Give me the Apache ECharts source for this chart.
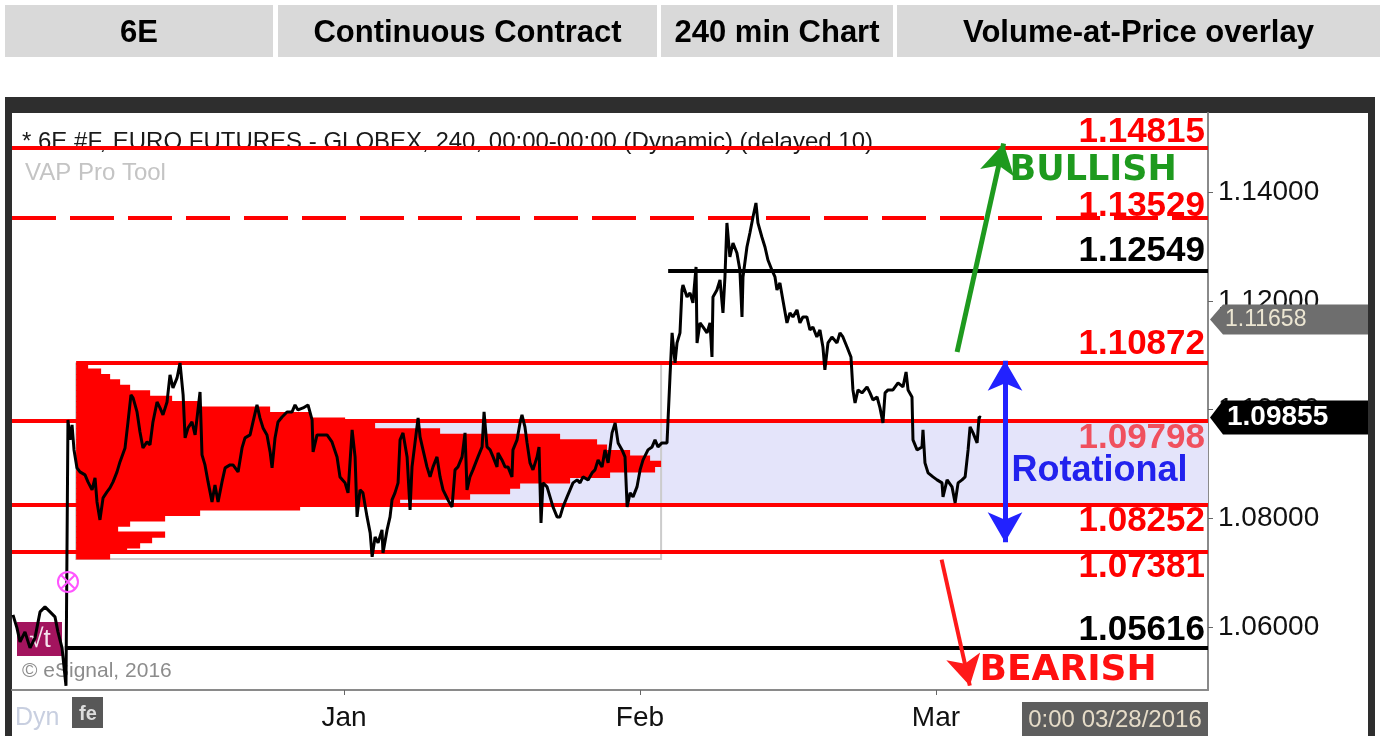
<!DOCTYPE html>
<html>
<head>
<meta charset="utf-8">
<title>6E 240 min Chart - Volume-at-Price overlay</title>
<script src="https://cdn.jsdelivr.net/npm/echarts@6/dist/echarts.min.js"></script>
<style>
  html, body { margin: 0; padding: 0; background: #fff; }
  #chart { width: 1380px; height: 736px; }
</style>
</head>
<body>
<div id="chart"></div>
<script>
// x axis: trading days counted from Tue 1 Dec 2015, y axis: price
const headerCells = ['6E', 'Continuous Contract', '240 min Chart', 'Volume-at-Price overlay'];

const monthTicks = [23, 44, 65];
const monthLabels = ['Jan', 'Feb', 'Mar'];
const priceTicks = [1.06, 1.08, 1.10, 1.12, 1.14];

// 240 min closes
const barDay = [
  -0.48, -0.20, 0.02, 0.37, 0.73, 1.08, 1.44, 1.79, 2.15, 2.50, 2.71, 3.00, 3.28, 3.42, 3.57, 3.71, 3.85, 4.06, 4.27, 4.63,
  4.84, 5.13, 5.34, 5.48, 5.69, 5.91, 6.19, 6.40, 6.62, 6.90, 7.11, 7.47, 7.68, 7.89, 8.04, 8.32, 8.53, 8.74, 9.03, 9.24,
  9.45, 9.74, 9.95, 10.16, 10.45, 10.66, 10.87, 11.16, 11.37, 11.59, 11.73, 11.94, 12.22, 12.44, 12.79, 12.93, 13.14, 13.36, 13.64, 13.85,
  14.07, 14.35, 14.57, 14.92, 15.13, 15.49, 15.77, 15.98, 16.34, 16.55, 16.83, 17.04, 17.26, 17.54, 17.76, 17.90, 18.11, 18.32, 18.61, 18.96,
  19.32, 19.53, 19.74, 20.10, 20.45, 20.74, 20.81, 21.09, 21.44, 21.80, 22.15, 22.51, 22.72, 23.08, 23.29, 23.58, 23.79, 23.93, 24.14, 24.35,
  24.64, 24.86, 25.00, 25.21, 25.42, 25.70, 25.77, 26.06, 26.27, 26.41, 26.62, 26.84, 26.98, 27.19, 27.48, 27.69, 27.83, 28.04, 28.26, 28.40,
  28.61, 28.89, 29.11, 29.32, 29.60, 29.82, 30.03, 30.38, 30.67, 30.88, 31.09, 31.38, 31.59, 31.73, 31.94, 32.15, 32.51, 32.80, 32.94, 33.15,
  33.37, 33.58, 33.86, 33.93, 34.21, 34.43, 34.64, 34.92, 34.99, 35.28, 35.49, 35.63, 35.84, 35.99, 36.20, 36.41, 36.70, 36.84, 36.98, 37.12,
  37.41, 37.62, 37.83, 38.12, 38.33, 38.54, 38.83, 39.04, 39.25, 39.54, 39.75, 39.96, 40.32, 40.60, 40.81, 41.03, 41.31, 41.52, 41.74, 42.02,
  42.24, 42.45, 42.73, 42.94, 43.09, 43.30, 43.51, 43.79, 44.01, 44.22, 44.57, 44.86, 45.07, 45.28, 45.56, 45.92, 46.13, 46.28, 46.35, 46.49,
  46.63, 46.84, 46.98, 47.05, 47.34, 47.55, 47.76, 47.98, 48.05, 48.26, 48.47, 48.76, 48.97, 49.11, 49.18, 49.46, 49.68, 49.89, 50.03, 50.17,
  50.38, 50.60, 50.88, 51.09, 51.24, 51.31, 51.59, 51.80, 52.02, 52.23, 52.37, 52.65, 52.87, 53.08, 53.36, 53.58, 53.72, 53.93, 54.14, 54.43,
  54.64, 54.85, 55.14, 55.35, 55.56, 55.84, 56.06, 56.27, 56.55, 56.77, 56.98, 57.12, 57.34, 57.62, 57.98, 58.19, 58.40, 58.69, 58.97, 59.11,
  59.26, 59.47, 59.75, 60.11, 60.32, 60.53, 60.82, 61.03, 61.24, 61.39, 61.60, 61.95, 62.31, 62.66, 62.88, 63.02, 63.30, 63.37, 63.66, 64.01,
  64.08, 64.22, 64.44, 64.79, 65.08, 65.43, 65.50, 65.79, 66.14, 66.36, 66.57, 66.85, 67.07, 67.28, 67.42, 67.63, 67.92, 68.06, 68.20
];
const barClose = [
  1.06223, 1.05984, 1.05726, 1.05910, 1.05616, 1.05800, 1.06278, 1.06370, 1.06278, 1.06186, 1.05910, 1.05616, 1.04917, 1.09811, 1.09443, 1.09719, 1.09259, 1.08928, 1.08854, 1.08799,
  1.08670, 1.08523, 1.08744, 1.08302, 1.07971, 1.08376, 1.08486, 1.08560, 1.08670, 1.08854, 1.09038, 1.09296, 1.09774, 1.10271, 1.10216, 1.09958, 1.09590, 1.09296, 1.09406, 1.09351,
  1.09774, 1.10142, 1.10032, 1.09903, 1.10142, 1.10639, 1.10400, 1.10584, 1.10860, 1.10271, 1.09480, 1.09664, 1.09774, 1.09535, 1.10326, 1.09167, 1.08983, 1.08670, 1.08302, 1.08615,
  1.08302, 1.08670, 1.08928, 1.08983, 1.08983, 1.08854, 1.09296, 1.09480, 1.09535, 1.09774, 1.10087, 1.09848, 1.09664, 1.09535, 1.09222, 1.08928, 1.09480, 1.09774, 1.09866, 1.09958,
  1.09958, 1.10087, 1.09995, 1.10032, 1.10087, 1.09811, 1.09222, 1.09535, 1.09535, 1.09535, 1.09406, 1.09130, 1.08762, 1.08652, 1.08468, 1.09627, 1.09130, 1.08026, 1.08523, 1.08468,
  1.08026, 1.07732, 1.07290, 1.07658, 1.07548, 1.07787, 1.07364, 1.07787, 1.08026, 1.08339, 1.08468, 1.08652, 1.09443, 1.09572, 1.09130, 1.08155, 1.08946, 1.09388, 1.09848, 1.09498,
  1.09259, 1.08946, 1.08762, 1.08946, 1.09130, 1.08762, 1.08523, 1.08339, 1.08210, 1.08891, 1.08946, 1.09130, 1.09572, 1.08523, 1.08762, 1.08891, 1.09130, 1.09314, 1.09958, 1.09314,
  1.09259, 1.09130, 1.08946, 1.09204, 1.09075, 1.08946, 1.08946, 1.08762, 1.09259, 1.09443, 1.09756, 1.09903, 1.09682, 1.09388, 1.09020, 1.08891, 1.09130, 1.09314, 1.07916, 1.08652,
  1.08578, 1.08394, 1.08210, 1.08026, 1.08026, 1.08210, 1.08394, 1.08523, 1.08652, 1.08707, 1.08652, 1.08762, 1.08707, 1.08836, 1.08891, 1.09075, 1.08946, 1.09259, 1.09020, 1.09572,
  1.09756, 1.09388, 1.09259, 1.09130, 1.08210, 1.08468, 1.08394, 1.08578, 1.08891, 1.09075, 1.09259, 1.09314, 1.09443, 1.09314, 1.09388, 1.09388, 1.10602, 1.11412, 1.11228, 1.10860,
  1.11228, 1.11412, 1.12203, 1.12295, 1.12074, 1.12148, 1.11964, 1.12626, 1.11228, 1.11596, 1.11522, 1.11412, 1.11596, 1.10970, 1.12074, 1.12203, 1.12387, 1.11780, 1.12442, 1.13436,
  1.12810, 1.13068, 1.12884, 1.12571, 1.11706, 1.12442, 1.12994, 1.13252, 1.13546, 1.13804, 1.13436, 1.13178, 1.12994, 1.12755, 1.12571, 1.12442, 1.12203, 1.12332, 1.12019, 1.11596,
  1.11780, 1.11706, 1.11835, 1.11596, 1.11706, 1.11706, 1.11467, 1.11522, 1.11338, 1.11467, 1.11154, 1.10731, 1.11228, 1.11338, 1.11228, 1.11412, 1.11338, 1.11154, 1.10970, 1.10363,
  1.10124, 1.10363, 1.10308, 1.10418, 1.10308, 1.10179, 1.10234, 1.10032, 1.09756, 1.10308, 1.10363, 1.10363, 1.10492, 1.10418, 1.10694, 1.10363, 1.10234, 1.09443, 1.09259, 1.09314,
  1.09627, 1.09020, 1.08836, 1.08762, 1.08707, 1.08652, 1.08394, 1.08707, 1.08578, 1.08284, 1.08652, 1.08707, 1.08762, 1.09259, 1.09682, 1.09572, 1.09388, 1.09866, 1.09855
];

// volume at price: lower edge of each 0.001 row and its volume
const vapLow = [
  1.0725, 1.0735, 1.0745, 1.0755, 1.0765, 1.0775, 1.0785, 1.0795, 1.0805, 1.0815, 1.0825, 1.0835,
  1.0845, 1.0855, 1.0865, 1.0875, 1.0885, 1.0895, 1.0905, 1.0915, 1.0925, 1.0935, 1.0945, 1.0955,
  1.0965, 1.0975, 1.0985, 1.0995, 1.1005, 1.1015, 1.1025, 1.1035, 1.1045, 1.1055, 1.1065, 1.1075
];
const vapVolume = [
  34, 51, 64, 76, 89, 42, 54, 89, 124, 224, 324, 394,
  434, 444, 494, 534, 579, 585, 574, 554, 531, 521, 484, 364,
  299, 269, 234, 194, 124, 96, 74, 54, 44, 34, 25, 12
];

// drawn price levels, top to bottom
const levelPrices = [1.14815, 1.13529, 1.12549, 1.10872, 1.09798, 1.08252, 1.07381, 1.05616];
const rangeTop = 1.09798;
const rangeBottom = 1.08252;
const lastPrice = 1.09855;
const markedPrice = 1.11658;

// ---- layout / style ----
const FONT = "'Liberation Sans', Arial, sans-serif";
const X_MIN = -0.55, X_MAX = 84.3;
const Y_MIN = 1.0484, Y_MAX = 1.1546;
const vapStartDay = 4.0, vapEndDay = 45.5, vapStep = 0.001;
const vapScale = (vapEndDay - vapStartDay) / Math.max(...vapVolume);

const levelLook = [
  { color: '#ff0000', from: X_MIN, below: false, gap: -2 },
  { color: '#ff0000', from: X_MIN, below: false, gap: -6, dash: [44, 14] },
  { color: '#000000', from: 46.0, below: false, gap: 2 },
  { color: '#ff0000', from: vapStartDay, below: false, gap: 0 },
  { color: '#ff0000', text: '#f0505e', from: X_MIN, below: true, gap: 0 },
  { color: '#ff0000', from: X_MIN, below: true, gap: -1 },
  { color: '#ff0000', from: X_MIN, below: true, gap: -2 },
  { color: '#000000', from: 3.2, below: false, gap: 0 }
];

const bullArrow = [[66.5, 1.1106], [69.8, 1.1490]];
const rangeArrow = [[69.9, 1.1090], [69.9, 1.0756]];
const bearArrow = [[65.4, 1.0724], [67.4, 1.0492]];

const chart = echarts.init(document.getElementById('chart'));

const headerBoxes = [[5, 268], [278, 379], [661, 232], [897, 483]];
const graphics = [];
headerCells.forEach(function (t, i) {
  const b = headerBoxes[i];
  graphics.push({ type: 'rect', shape: { x: b[0], y: 5, width: b[1], height: 52 }, style: { fill: '#d9d9d9' } });
  graphics.push({
    type: 'text', x: b[0] + b[1] / 2, y: 33,
    style: { text: t, fill: '#000', fontSize: 31, fontWeight: 'bold', fontFamily: FONT, align: 'center', verticalAlign: 'middle' }
  });
});
// chart window frame
graphics.push(
  { type: 'rect', shape: { x: 5, y: 97, width: 1370, height: 16, r: [5, 5, 0, 0] }, style: { fill: '#2e2e2e' } },
  { type: 'rect', shape: { x: 5, y: 97, width: 7, height: 639 }, style: { fill: '#2e2e2e' } },
  { type: 'rect', shape: { x: 1368, y: 97, width: 7, height: 639 }, style: { fill: '#2e2e2e' } },
  {
    type: 'text', x: 22, y: 142, z: -1,
    style: { text: '* 6E #F, EURO FUTURES - GLOBEX, 240, 00:00-00:00 (Dynamic) (delayed 10)', fill: '#1a1a1a', fontSize: 24, fontFamily: FONT, verticalAlign: 'middle' }
  },
  { type: 'text', x: 25, y: 173, z: -1, style: { text: 'VAP Pro Tool', fill: '#c4c4c4', fontSize: 24, fontFamily: FONT, verticalAlign: 'middle' } },
  { type: 'rect', z: -1, shape: { x: 17, y: 622, width: 45, height: 34 }, style: { fill: '#a3145e' } },
  { type: 'text', x: 40, y: 640, z: -1, style: { text: '√t', fill: '#f4e4ee', fontSize: 26, fontFamily: FONT, align: 'center', verticalAlign: 'middle' } },
  { type: 'text', x: 22, y: 671, style: { text: '© eSignal, 2016', fill: '#8c8c8c', fontSize: 21, fontFamily: FONT, verticalAlign: 'middle' } },
  { type: 'text', x: 15, y: 718, style: { text: 'Dyn', fill: '#c8cfe0', fontSize: 25, fontFamily: FONT, verticalAlign: 'middle' } },
  { type: 'rect', shape: { x: 72, y: 697, width: 31, height: 31 }, style: { fill: '#585858' } },
  { type: 'text', x: 88, y: 714, style: { text: 'fe', fill: '#dddddd', fontSize: 20, fontWeight: 'bold', fontFamily: FONT, align: 'center', verticalAlign: 'middle' } },
  { type: 'rect', shape: { x: 1022, y: 702, width: 186, height: 40 }, style: { fill: '#5e5e5e' } },
  { type: 'text', x: 1115, y: 720, style: { text: '0:00 03/28/2016', fill: '#e6dcc8', fontSize: 24, fontFamily: FONT, align: 'center', verticalAlign: 'middle' } }
);

const levelLines = levelPrices.map(function (p, i) {
  const look = levelLook[i];
  return [
    {
      coord: [look.from, p],
      lineStyle: { color: look.color, width: 4, type: look.dash || 'solid', opacity: 1 },
      label: {
        show: true,
        position: look.below ? 'insideEndBottom' : 'insideEndTop',
        formatter: p.toFixed(5),
        color: look.text || look.color,
        fontSize: 35, fontWeight: 'bold', fontFamily: FONT,
        distance: [3, look.gap]
      }
    },
    { coord: [X_MAX, p] }
  ];
});

function arrowPair(pts, color, width, both) {
  return [
    { coord: pts[0], symbol: both ? 'arrow' : 'none', symbolSize: [26, 30], lineStyle: { color: color, width: width, type: 'solid', opacity: 1 } },
    { coord: pts[1], symbol: 'arrow', symbolSize: [26, 30] }
  ];
}

function textMark(coord, text, color, size, family) {
  return {
    coord: coord, symbol: 'circle', symbolSize: 1, itemStyle: { color: 'rgba(0,0,0,0)' },
    label: { show: true, position: [0, 0], align: 'left', verticalAlign: 'middle', formatter: text, color: color, fontSize: size, fontWeight: 'bold', fontFamily: family }
  };
}

const tagPath = 'path://M0,15 L13,0 L158,0 L158,30 L13,30 Z';

const option = {
  animation: false,
  backgroundColor: '#ffffff',
  graphic: graphics,
  grid: { left: 12, top: 113, right: 172, bottom: 46, show: false },
  xAxis: {
    type: 'value', min: X_MIN, max: X_MAX,
    splitLine: { show: false },
    axisLine: { show: true, onZero: false, lineStyle: { color: '#8a8a8a', width: 2 } },
    axisTick: { show: true, customValues: monthTicks, length: 5, lineStyle: { color: '#666', width: 1 } },
    axisLabel: {
      customValues: monthTicks, margin: 14,
      formatter: function (v) { return monthLabels[monthTicks.indexOf(v)] || ''; },
      color: '#111', fontSize: 28, fontFamily: FONT
    }
  },
  yAxis: {
    type: 'value', position: 'right', min: Y_MIN, max: Y_MAX, scale: true,
    splitLine: { show: false },
    axisLine: { show: true, onZero: false, lineStyle: { color: '#8a8a8a', width: 2 } },
    axisTick: { show: true, customValues: priceTicks, length: 5, lineStyle: { color: '#666', width: 1 } },
    axisLabel: {
      customValues: priceTicks, margin: 10,
      formatter: function (v) { return v.toFixed(5); },
      color: '#111', fontSize: 28, fontFamily: FONT
    }
  },
  series: [
    {
      name: 'Volume at price',
      type: 'custom',
      z: 2,
      data: vapLow.map(function (p, i) { return [p, vapVolume[i]]; }),
      renderItem: function (params, api) {
        const lo = api.value(0), vol = api.value(1);
        const a = api.coord([vapStartDay, lo]);
        const b = api.coord([vapStartDay + vol * vapScale, lo + vapStep]);
        return {
          type: 'rect',
          shape: { x: a[0], y: b[1] - 0.4, width: b[0] - a[0], height: a[1] - b[1] + 0.8 },
          style: { fill: '#ff0000' }
        };
      },
      markArea: {
        silent: true,
        data: [
          [{ coord: [vapStartDay, rangeBottom], itemStyle: { color: '#e4e4fa' } }, { coord: [X_MAX, rangeTop] }],
          [{ coord: [vapStartDay, vapLow[0]], itemStyle: { color: 'rgba(0,0,0,0)', borderColor: '#cccccc', borderWidth: 2 } },
           { coord: [vapEndDay, vapLow[vapLow.length - 1] + vapStep] }]
        ]
      },
      markLine: { z: 3, silent: true, symbol: ['none', 'none'], data: levelLines }
    },
    {
      name: '6E #F',
      type: 'line',
      z: 4,
      data: barDay.map(function (d, i) { return [d, barClose[i]]; }),
      showSymbol: false,
      lineStyle: { color: '#000', width: 3 },
      markLine: {
        z: 5, silent: true, label: { show: false },
        data: [
          arrowPair(bullArrow, '#1e9a1e', 5, false),
          arrowPair(rangeArrow, '#2222ff', 5, true),
          arrowPair(bearArrow, '#ff1a1a', 4, false)
        ]
      },
      markPoint: {
        z: 6, silent: true,
        data: [
          {
            coord: [X_MAX, markedPrice], symbol: tagPath, symbolSize: [158, 30], symbolOffset: [81, 0],
            itemStyle: { color: '#6e6e6e' },
            label: { show: true, position: 'insideLeft', distance: 15, formatter: markedPrice.toFixed(5), color: '#ece6d2', fontSize: 23, fontFamily: FONT }
          },
          {
            coord: [X_MAX, lastPrice], symbol: tagPath, symbolSize: [158, 34], symbolOffset: [81, 0],
            itemStyle: { color: '#000' },
            label: { show: true, position: 'insideLeft', distance: 17, formatter: lastPrice.toFixed(5), color: '#fff', fontSize: 28, fontWeight: 'bold', fontFamily: FONT }
          },
          {
            coord: [3.42, 1.0683], symbol: 'path://M10,1 A9,9 0 1,1 9.99,1 Z M4,4 L16,16 M16,4 L4,16', symbolSize: 20,
            itemStyle: { color: 'rgba(0,0,0,0)', borderColor: '#ff55ff', borderWidth: 2 }, label: { show: false }
          },
          textMark([70.26, 1.1438], 'BULLISH', '#1e9a1e', 35, 'DejaVu Sans'),
          textMark([68.13, 1.0519], 'BEARISH', '#ff1010', 36, 'DejaVu Sans'),
          textMark([70.40, 1.0886], 'Rotational', '#2222ee', 36, FONT)
        ]
      }
    }
  ]
};

chart.setOption(option);
</script>
</body>
</html>
